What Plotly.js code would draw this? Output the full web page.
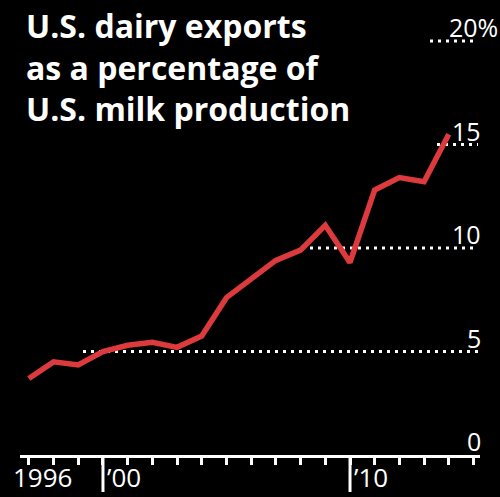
<!DOCTYPE html>
<html>
<head>
<meta charset="utf-8">
<script src="https://cdn.plot.ly/plotly-3.0.1.min.js"></script>
<style>
html,body{margin:0;padding:0;background:#000;}
#chart{width:500px;height:497px;}
</style>
</head>
<body>
<div id="chart"></div>
<script>
// ---- data ----
const years = [1996,1997,1998,1999,2000,2001,2002,2003,2004,2005,2006,2007,2008,2009,2010,2011,2012,2013];
const exportShare = [3.7,4.5,4.35,5.0,5.3,5.45,5.2,5.75,7.6,8.5,9.4,9.9,11.1,9.3,12.8,13.4,13.2,15.5];
const xTickVals = ['2000-01-01','2010-01-01'];
const xTickText = ['\u201900','\u201910'];
const firstYearLabel = '1996';
const yTickVals = [0,5,10,15,20];
const yTickText = ['0','5','10','15','20%'];
const titleLines = ['U.S. dairy exports','as a percentage of','U.S. milk production'];

// ---- layout helpers (pixel geometry) ----
const W = 500, H = 497, ML = 20, MR = 20, MT = 0, MB = 42;
const PW = W - ML - MR, PH = H - MT - MB;
const px2paper = p => (p - ML) / PW;
const gridStart = {5: 83, 10: 310, 15: 437, 20: 430};
const gridEnd = 478;

const white = '#ffffff';
const shapes = [];
yTickVals.forEach(v => {
  if (gridStart[v] === undefined) return;
  shapes.push({type:'line', layer:'below', xref:'paper', yref:'y',
    x0: px2paper(gridStart[v]), x1: px2paper(gridEnd), y0: v, y1: v,
    line:{color:white, width:3, dash:'3px,5px'}});
});
xTickVals.forEach(d => {
  shapes.push({type:'line', xref:'x', yref:'paper', x0:d, x1:d, y0:0, y1:-37/PH,
    line:{color:white, width:3}});
});

const xFont = {family:'Open Sans', size:26, color:white};
const annotations = [];
yTickVals.forEach((v,i) => {
  const t = yTickText[i];
  const pct = t.endsWith('%');
  annotations.push({xref:'paper', yref:'y', x: pct ? px2paper(447) : px2paper(483), y: v,
    xanchor: pct ? 'left' : 'right', yanchor:'middle', yshift:14, showarrow:false, text:t,
    font:{family:'Open Sans', size:25, color:white}});
});
xTickVals.forEach((d,i) => {
  annotations.push({xref:'x', yref:'paper', x:d, y:0, xanchor:'left', yanchor:'top',
    xshift:2, yshift:-2, showarrow:false, text:xTickText[i], font:xFont});
});
annotations.push({xref:'paper', yref:'paper', x: px2paper(42), y:0, xanchor:'center', yanchor:'top',
  yshift:-2, showarrow:false, text:firstYearLabel, font:xFont});
annotations.push({xref:'paper', yref:'paper', x: px2paper(24), y:1, xanchor:'left', yanchor:'top',
  yshift:-2, align:'left', showarrow:false, text:'<b>' + titleLines.join('<br>') + '</b>',
  font:{family:'Open Sans', size:32, color:white}});

const trace = {
  x: years.map(y => y + '-12-31'),
  y: exportShare,
  type:'scatter', mode:'lines',
  line:{color:'#dc3a3c', width:5.5},
  hoverinfo:'skip'
};

const layout = {
  width: W, height: H,
  margin:{l:ML, r:MR, t:MT, b:MB, pad:0},
  paper_bgcolor:'#000', plot_bgcolor:'#000',
  showlegend:false,
  xaxis:{type:'date', range:['1996-08-22','2015-04-07'], showgrid:false, zeroline:false,
    showline:true, linecolor:white, linewidth:3,
    tickmode:'array', tickvals:xTickVals, showticklabels:false,
    ticks:'outside', ticklen:7, tickwidth:3, tickcolor:white,
    minor:{dtick:'M12', tick0:'1997-01-01', ticks:'outside', ticklen:7, tickwidth:3, tickcolor:white, showgrid:false}},
  yaxis:{range:[0, PH/20.7], showgrid:false, zeroline:false, showline:false, showticklabels:false, ticks:''},
  shapes: shapes,
  annotations: annotations
};

Plotly.newPlot('chart', [trace], layout, {staticPlot:true, displayModeBar:false});
</script>
</body>
</html>
